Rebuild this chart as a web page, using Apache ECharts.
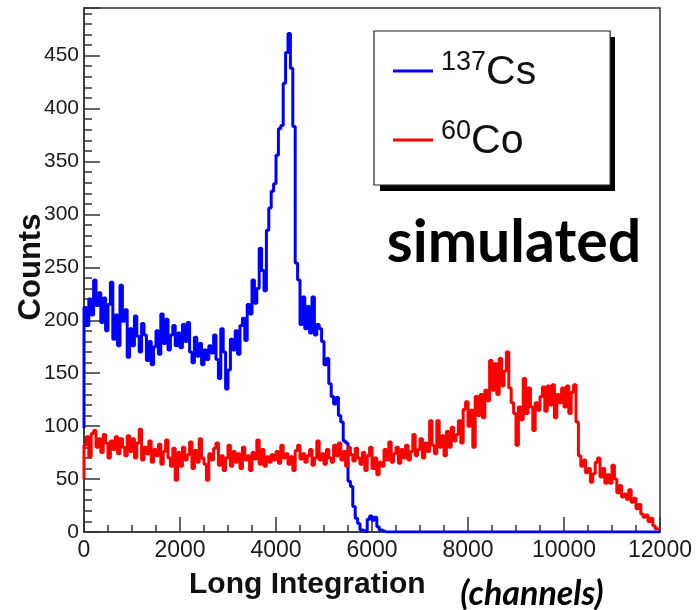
<!DOCTYPE html>
<html>
<head>
<meta charset="utf-8">
<script src="https://cdn.jsdelivr.net/npm/echarts@6/dist/echarts.min.js"></script>
<style>
  html, body { margin: 0; padding: 0; background: #ffffff; }
  #chart { width: 697px; height: 610px; }
</style>
</head>
<body>
<div id="chart"></div>
<script>
// Histogram binning of the long-integration channel axis
const binWidth = 50;
const channelMax = 12000;
const countsMax = 495;

// Isotope labels (mass number as superscript + element symbol)
const seriesNames = ['137Cs', '60Co'];
const massNumbers = ['137', '60'];
const elementSymbols = ['Cs', 'Co'];

// 137Cs simulated spectrum, counts per 50-channel bin (0 .. 12000)
const csCounts = [
  98, 212, 195, 220, 205, 238, 214, 226, 198, 221, 190, 215, 236, 182, 205, 176, 233, 199, 210, 165,
  192, 176, 204, 185, 170, 197, 186, 162, 180, 158, 175, 190, 168, 206, 178, 201, 172, 186, 195, 176,
  188, 174, 196, 180, 198, 170, 160, 184, 166, 178, 158, 172, 163, 176, 169, 186, 163, 145, 192, 170,
  135, 153, 182, 172, 190, 168, 195, 202, 181, 215, 206, 238, 216, 230, 268, 247, 228, 285, 306, 322,
  329, 356, 381, 384, 424, 453, 471, 438, 383, 254, 238, 196, 222, 192, 213, 188, 222, 186, 196, 192,
  180, 158, 164, 140, 128, 121, 127, 110, 104, 86, 84, 48, 43, 24, 13, 8, 2, 1, 0, 12,
  15, 11, 14, 5, 2, 1, 0, 0, 0, 0, 0, 0, 0, 0, 0, 0, 0, 0, 0, 0,
  0, 0, 0, 0, 0, 0, 0, 0, 0, 0, 0, 0, 0, 0, 0, 0, 0, 0, 0, 0,
  0, 0, 0, 0, 0, 0, 0, 0, 0, 0, 0, 0, 0, 0, 0, 0, 0, 0, 0, 0,
  0, 0, 0, 0, 0, 0, 0, 0, 0, 0, 0, 0, 0, 0, 0, 0, 0, 0, 0, 0,
  0, 0, 0, 0, 0, 0, 0, 0, 0, 0, 0, 0, 0, 0, 0, 0, 0, 0, 0, 0,
  0, 0, 0, 0, 0, 0, 0, 0, 0, 0, 0, 0, 0, 0, 0, 0, 0, 0, 0, 0
];

// 60Co simulated spectrum, counts per 50-channel bin (0 .. 12000)
const coCounts = [
  50, 82, 90, 71, 93, 96, 80, 88, 75, 92, 84, 70, 86, 78, 90, 74, 88, 80, 72, 91,
  76, 88, 70, 84, 97, 68, 80, 74, 86, 66, 78, 72, 83, 64, 76, 87, 70, 62, 79, 49,
  75, 62, 80, 68, 73, 85, 60, 77, 66, 88, 70, 64, 49, 74, 68, 79, 84, 63, 72, 58,
  70, 82, 62, 76, 66, 74, 60, 80, 68, 72, 58, 75, 69, 87, 64, 78, 62, 71, 66, 73,
  68, 76, 65, 82, 70, 74, 64, 71, 58, 77, 82, 69, 74, 66, 72, 78, 63, 70, 86, 68,
  74, 64, 78, 70, 66, 82, 72, 84, 68, 76, 62, 80, 73, 67, 79, 70, 64, 75, 58, 72,
  80, 60, 70, 54, 66, 62, 78, 68, 85, 66, 74, 80, 65, 78, 70, 82, 68, 76, 92, 72,
  78, 88, 70, 84, 76, 105, 82, 74, 105, 80, 91, 72, 95, 80, 99, 86, 92, 105, 84, 116,
  123, 100, 115, 80, 128, 110, 130, 108, 134, 124, 162, 134, 159, 130, 164, 138, 152, 170, 136, 122,
  112, 82, 118, 106, 145, 112, 136, 118, 96, 122, 115, 128, 137, 114, 138, 120, 139, 108, 130, 122,
  136, 118, 138, 112, 132, 139, 104, 72, 62, 68, 56, 60, 47, 55, 66, 70, 52, 60, 46, 54,
  46, 63, 50, 37, 44, 33, 36, 31, 40, 28, 32, 22, 26, 17, 14, 16, 10, 13, 6, 3
];

// Turn bin contents into step-line points at bin lower edges, closed at the last edge
function toSteps(counts) {
  const pts = counts.map((v, i) => [i * binWidth, v]);
  pts.push([channelMax, counts[counts.length - 1]]);
  return pts;
}

const axisColor = '#333333';
const labelFont = 'Liberation Sans';

// Legend frame geometry (its drop shadow is a plain black rectangle behind it)
const legendBox = { left: 374, top: 31, width: 235, height: 154 };
const legendShadowOffset = 6;

const chart = echarts.init(document.getElementById('chart'), null, { renderer: 'canvas' });

chart.setOption({
  animation: false,
  backgroundColor: '#ffffff',
  grid: {
    left: 84, right: 37, top: 8, bottom: 78,
    show: true, borderColor: axisColor, borderWidth: 1.5,
    backgroundColor: 'transparent'
  },
  xAxis: {
    type: 'value',
    min: 0, max: channelMax, interval: 2000,
    axisLine: { show: true, lineStyle: { color: axisColor, width: 1.5 } },
    axisTick: { show: true, inside: true, length: 15, lineStyle: { color: axisColor, width: 1.5 } },
    minorTick: { show: true, splitNumber: 4, length: 7, lineStyle: { color: axisColor, width: 1.5 } },
    splitLine: { show: false },
    axisLabel: {
      color: '#1a1a1a', fontFamily: labelFont, fontSize: 23, margin: 7,
      formatter: function (v) { return String(v); }
    }
  },
  yAxis: {
    type: 'value',
    min: 0, max: countsMax, interval: 50,
    axisLine: { show: true, lineStyle: { color: axisColor, width: 1.5 } },
    axisTick: { show: true, inside: true, length: 16, lineStyle: { color: axisColor, width: 1.5 } },
    minorTick: { show: true, splitNumber: 5, length: 8, lineStyle: { color: axisColor, width: 1.5 } },
    splitLine: { show: false },
    axisLabel: {
      color: '#1a1a1a', fontFamily: labelFont, fontSize: 21, margin: 5, showMaxLabel: false,
      formatter: function (v) { return String(v); }
    }
  },
  legend: {
    orient: 'vertical',
    left: legendBox.left, top: legendBox.top,
    padding: [18, 74, 23, 19],
    itemGap: 25,
    itemWidth: 40,
    itemHeight: 3,
    icon: 'rect',
    selectedMode: false,
    backgroundColor: '#ffffff',
    borderColor: '#222222',
    borderWidth: 1.2,
    z: 10,
    data: seriesNames,
    formatter: function (name) {
      const i = seriesNames.indexOf(name);
      return '{mass|' + massNumbers[i] + '}{elem|' + elementSymbols[i] + '}';
    },
    textStyle: {
      color: '#111111',
      fontFamily: labelFont,
      rich: {
        mass: { fontSize: 27, fontFamily: labelFont, color: '#111111', lineHeight: 8, verticalAlign: 'top', padding: [0, 0, 0, 3] },
        elem: { fontSize: 41, fontFamily: labelFont, color: '#111111', lineHeight: 44, verticalAlign: 'bottom' }
      }
    }
  },
  graphic: [
    {
      type: 'rect', z: 5,
      shape: {
        x: legendBox.left + legendShadowOffset, y: legendBox.top + legendShadowOffset,
        width: legendBox.width, height: legendBox.height
      },
      style: { fill: '#000000' }
    },
    {
      type: 'text', left: 189, top: 570,
      style: { text: 'Long Integration', fill: '#111111', font: 'bold 30px "Liberation Sans"' }
    },
    {
      type: 'text', x: 31, y: 267, rotation: Math.PI / 2,
      style: { text: 'Counts', fill: '#111111', font: 'bold 31px "Liberation Sans"', align: 'center', verticalAlign: 'middle' }
    },
    {
      type: 'text', x: 532, y: 594,
      style: { text: '(channels)', fill: '#000000', font: 'italic bold 34px Lato', align: 'center', verticalAlign: 'middle' }
    },
    {
      type: 'text', x: 514, y: 243,
      style: { text: 'simulated', fill: '#000000', font: 'bold 59px Lato', align: 'center', verticalAlign: 'middle' }
    }
  ],
  series: [
    {
      name: seriesNames[0], type: 'line', step: 'start', symbol: 'none',
      data: toSteps(csCounts),
      lineStyle: { color: '#0000ff', width: 3 },
      itemStyle: { color: '#0000ff' },
      z: 2
    },
    {
      name: seriesNames[1], type: 'line', step: 'start', symbol: 'none',
      data: toSteps(coCounts),
      lineStyle: { color: '#ff0000', width: 3 },
      itemStyle: { color: '#ff0000' },
      z: 3
    }
  ]
});
</script>
</body>
</html>
